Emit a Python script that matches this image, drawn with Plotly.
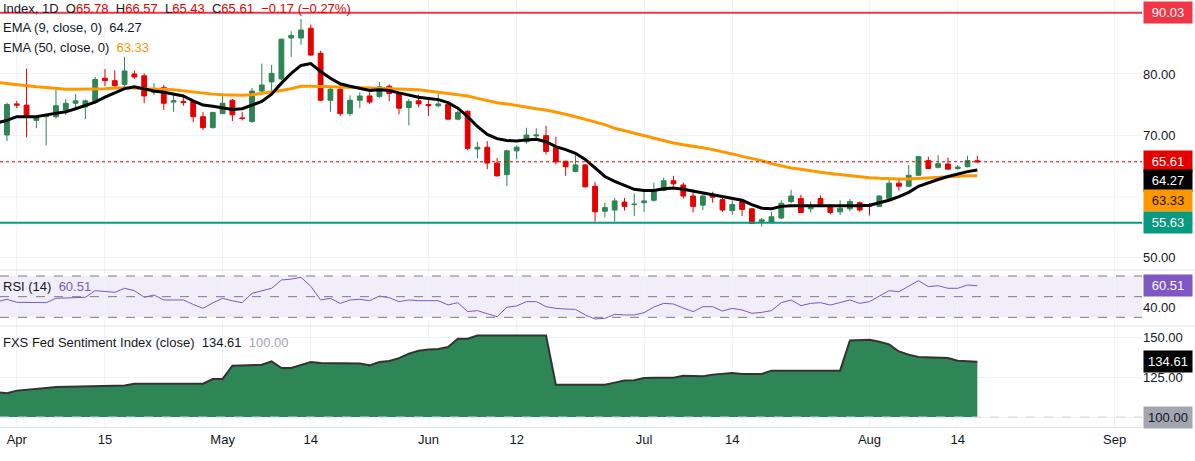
import plotly.graph_objects as go

# --- candles (daily bars); first bar is cut off at the left edge ---
open_ = [70.0,
         70.0, 75.1, 74.9, 72.4, 73.0, 73.0, 74.1, 75.2, 74.6, 75.4,
         79.3, 78.9, 78.3, 80.0, 79.7, 77.0, 77.8, 75.4, 75.5, 75.5,
         73.0, 71.2, 73.5, 75.7, 72.8, 72.2, 77.2, 78.7, 79.2, 85.9,
         85.9, 87.5, 83.4, 75.7, 77.5, 73.5, 75.7, 76.4, 76.3, 78.0,
         76.9, 74.5, 75.6, 75.0, 74.8, 75.0, 72.6, 73.9, 67.7, 68.0,
         65.4, 63.5, 67.4, 68.9, 69.85, 69.9, 67.9, 65.7, 64.0, 65.1,
         61.6, 57.5, 57.7, 59.0, 58.6, 58.9, 59.3, 60.9, 62.5, 61.8,
         60.0, 58.5, 60.1, 59.4, 57.6, 59.1, 57.9, 55.8, 55.7, 56.4,
         59.1, 59.6, 57.9, 59.6, 58.4, 57.4, 57.9, 58.9, 58.6, 58.3,
         59.6, 62.1, 61.6, 63.4, 65.8, 64.7, 65.25, 64.5, 64.8, 65.78]
high = [72.6,
        75.3, 75.6, 80.9, 73.3, 73.4, 77.5, 75.9, 76.7, 75.8, 79.5,
        80.8, 80.6, 82.8, 80.6, 80.1, 78.5, 78.2, 76.6, 76.6, 75.8,
        73.8, 73.8, 76.8, 75.9, 73.8, 77.7, 81.7, 81.5, 85.8, 87.0,
        89.0, 88.1, 83.8, 78.0, 78.5, 76.5, 77.0, 77.0, 78.7, 78.3,
        77.0, 75.9, 76.6, 75.8, 76.8, 75.2, 74.0, 74.0, 68.9, 69.0,
        66.2, 67.6, 68.3, 71.2, 71.1, 71.5, 69.7, 65.8, 67.0, 65.2,
        62.3, 58.9, 59.7, 59.7, 60.4, 61.0, 62.2, 63.0, 63.3, 62.2,
        61.1, 60.5, 60.7, 59.8, 59.3, 59.5, 58.0, 56.4, 57.4, 59.3,
        61.0, 60.2, 59.1, 60.1, 58.6, 59.3, 59.5, 59.1, 58.8, 60.1,
        62.9, 62.9, 65.1, 66.5, 66.45, 66.7, 66.3, 65.1, 66.6, 66.57]
low = [69.2,
       69.0, 74.4, 69.6, 71.1, 68.3, 72.7, 73.3, 74.4, 72.6, 75.2,
       78.0, 77.9, 77.7, 79.2, 75.2, 76.6, 74.1, 73.8, 74.8, 72.1,
       70.8, 71.1, 73.4, 72.3, 72.4, 72.0, 77.1, 77.2, 79.0, 82.8,
       84.8, 83.0, 75.5, 73.8, 73.1, 73.1, 74.4, 75.1, 76.1, 75.5,
       73.4, 71.6, 74.5, 73.1, 74.5, 72.5, 72.4, 67.5, 66.2, 64.4,
       63.2, 61.6, 66.0, 68.6, 69.3, 66.8, 65.2, 63.3, 63.9, 61.4,
       55.8, 56.5, 55.8, 57.6, 56.7, 57.4, 59.1, 60.8, 61.6, 59.6,
       57.3, 57.7, 58.9, 57.4, 56.9, 56.7, 55.4, 55.0, 55.5, 56.2,
       58.8, 57.2, 57.3, 58.2, 57.0, 56.9, 57.5, 57.4, 56.8, 58.2,
       59.5, 60.9, 61.5, 63.3, 64.4, 64.5, 64.35, 64.3, 64.7, 65.43]
close = [72.4,
         75.0, 74.9, 73.0, 72.8, 73.2, 74.8, 75.2, 75.6, 75.6, 79.1,
         78.9, 78.1, 80.5, 79.5, 76.4, 77.5, 75.2, 75.6, 75.3, 73.0,
         71.2, 73.7, 75.2, 73.3, 72.7, 77.2, 78.2, 80.1, 85.7, 86.3,
         87.2, 83.1, 75.7, 77.5, 73.5, 75.7, 76.4, 75.4, 77.9, 76.8,
         74.4, 75.5, 75.1, 74.8, 75.1, 72.6, 73.7, 67.8, 68.0, 65.4,
         63.3, 67.4, 68.0, 70.0, 70.0, 67.3, 65.6, 64.8, 65.1, 61.5,
         57.4, 58.1, 59.2, 58.3, 58.65, 59.2, 61.0, 62.5, 62.0, 60.0,
         58.3, 60.0, 59.8, 57.7, 58.6, 57.8, 55.5, 56.1, 56.6, 58.8,
         60.0, 57.3, 58.3, 58.4, 57.3, 58.0, 59.1, 57.7, 58.3, 60.0,
         62.1, 61.6, 63.4, 66.45, 64.5, 65.3, 64.4, 64.75, 65.8, 65.61]

ema9 = [72.0,
        72.4, 73.0, 73.0, 73.0, 73.3, 73.5, 73.8, 74.3, 74.8, 75.4,
        76.2, 76.9, 77.6, 77.9, 77.5, 77.2, 77.0, 76.7, 76.4, 75.6,
        74.9, 74.7, 74.5, 74.2, 74.3, 74.9, 75.5, 76.7, 78.5, 80.1,
        81.4, 81.7, 80.4, 79.3, 78.4, 78.0, 77.7, 77.3, 77.4, 77.3,
        76.9, 76.5, 76.2, 76.0, 75.8, 75.3, 74.4, 73.0, 71.4, 70.1,
        69.4, 69.1, 69.0, 69.2, 69.3, 68.9, 68.1, 67.6, 67.0, 66.0,
        64.6, 63.2, 62.4, 61.8, 61.1, 60.9, 60.9, 61.2, 61.3, 61.1,
        60.8, 60.5, 60.2, 60.0, 59.7, 59.3, 58.6, 58.0, 57.9, 58.3,
        58.4, 58.4, 58.4, 58.4, 58.4, 58.3, 58.3, 58.4, 58.5, 58.9,
        59.3, 59.9, 60.6, 61.6, 62.2, 62.7, 63.2, 63.6, 64.0, 64.27]
ema50 = [78.6,
         78.4, 78.2, 78.0, 77.9, 77.8, 77.6, 77.5, 77.5, 77.5, 77.5,
         77.6, 77.7, 77.75, 77.7, 77.6, 77.6, 77.5, 77.4, 77.2, 77.0,
         76.9, 76.7, 76.6, 76.5, 76.5, 76.6, 76.8, 77.0, 77.3, 77.6,
         78.0, 78.0, 78.0, 77.9, 77.85, 77.8, 77.75, 77.7, 77.6, 77.6,
         77.5, 77.45, 77.4, 77.2, 77.0, 76.9, 76.7, 76.4, 76.0, 75.6,
         75.3, 75.1, 74.8, 74.5, 74.3, 74.1, 73.8, 73.4, 73.0, 72.6,
         72.2, 71.7, 71.1, 70.7, 70.2, 69.8, 69.4, 69.0, 68.7, 68.4,
         68.2, 67.9, 67.6, 67.3, 66.9, 66.5, 66.2, 65.8, 65.3, 64.9,
         64.6, 64.4, 64.1, 63.9, 63.7, 63.5, 63.3, 63.1, 63.0, 62.9,
         62.8, 62.8, 62.8, 62.9, 63.0, 63.1, 63.2, 63.25, 63.3, 63.33]

rsi = [45.2,
       47.4, 44.5, 44.3, 44.2, 44.2, 48.4, 48.8, 49.2, 49.4, 55.8,
       55.0, 54.2, 58.1, 55.8, 49.4, 51.6, 46.8, 46.8, 46.8, 42.5,
       38.7, 44.0, 48.4, 46.0, 44.2, 53.2, 55.5, 58.1, 66.1, 67.0,
       68.7, 60.0, 46.8, 48.4, 43.5, 46.8, 47.4, 46.1, 50.6, 49.0,
       45.2, 46.8, 46.1, 46.1, 46.1, 42.0, 44.2, 35.5, 36.5, 33.5,
       30.6, 39.7, 41.0, 45.2, 45.2, 40.3, 38.7, 38.0, 37.7, 32.3,
       28.4, 29.0, 32.9, 32.3, 32.3, 34.5, 40.0, 43.5, 42.9, 39.0,
       35.5, 40.3, 40.3, 36.1, 38.7, 37.1, 33.9, 34.8, 36.5, 44.2,
       46.8, 41.3, 43.5, 44.2, 41.9, 44.3, 46.8, 43.5, 45.2, 50.5,
       55.8, 54.8, 60.5, 65.5, 59.7, 60.6, 58.1, 58.1, 61.3, 60.51]

fed_sentiment = [115.6,
                 114.8, 116.5, 117.2, 117.7, 118.2, 118.7, 118.9, 119.1, 119.3, 119.6,
                 119.6, 119.6, 119.7, 120.8, 120.8, 120.8, 120.8, 120.8, 120.8, 120.8,
                 120.8, 123.7, 123.8, 132.1, 132.4, 132.6, 132.7, 134.8, 130.6, 130.6,
                 132.7, 134.4, 133.7, 133.6, 133.6, 133.5, 133.5, 132.3, 134.4, 135.0,
                 136.8, 139.6, 141.5, 142.2, 142.5, 143.8, 149.0, 149.0, 151.0, 151.0,
                 151.0, 151.0, 151.0, 151.0, 151.0, 151.0, 120.2, 120.2, 120.2, 120.2,
                 120.2, 120.2, 121.5, 122.8, 123.0, 124.4, 124.5, 124.5, 124.6, 125.8,
                 125.6, 125.5, 126.5, 127.0, 127.5, 126.9, 126.9, 126.9, 129.0, 129.0,
                 129.0, 129.0, 129.0, 129.0, 129.0, 129.0, 147.9, 147.9, 148.3, 147.0,
                 145.4, 141.0, 139.0, 137.5, 137.3, 137.1, 136.9, 135.2, 134.7, 134.61]

tick_pos = [1, 10, 22, 31, 43, 52, 65, 74, 88, 97, 113]
tick_labels = ["Apr", "15", "May", "14", "Jun", "12", "Jul", "14", "Aug", "14", "Sep"]

resistance = 90.03
support = 55.63
last_price = close[-1]
rsi_levels = [30, 50, 70]
fed_base = 100.0

# bar index, the partly hidden first bar sits at -1
bars = list(range(-1, len(close) - 1))

GREEN = "#2E8555"
RED = "#E50000"
TEXT = "#131722"
GRID = "#F0F3FA"
FONT = "Liberation Sans"

fig = go.Figure()

fig.add_trace(go.Candlestick(
    x=bars, open=open_, high=high, low=low, close=close,
    increasing=dict(line=dict(color=GREEN, width=1), fillcolor=GREEN),
    decreasing=dict(line=dict(color=RED, width=1), fillcolor=RED),
    whiskerwidth=0, showlegend=False, xaxis="x", yaxis="y"))
fig.add_trace(go.Scatter(x=bars, y=ema50, mode="lines",
                         line=dict(color="#FF9800", width=3), showlegend=False, yaxis="y"))
fig.add_trace(go.Scatter(x=bars, y=ema9, mode="lines",
                         line=dict(color="#000000", width=3), showlegend=False, yaxis="y"))

fig.add_trace(go.Scatter(x=bars, y=rsi, mode="lines",
                         line=dict(color="#7E57C2", width=1), showlegend=False, yaxis="y2"))

fig.add_trace(go.Scatter(x=bars, y=[fed_base] * len(bars), mode="lines",
                         line=dict(width=0), showlegend=False, yaxis="y3", hoverinfo="skip"))
fig.add_trace(go.Scatter(x=bars, y=fed_sentiment, mode="lines", fill="tonexty",
                         fillcolor=GREEN, line=dict(color="#333333", width=2),
                         showlegend=False, yaxis="y3"))

# pane layout (price / RSI / sentiment)
main_dom = [0.3677, 1.0]
rsi_dom = [0.2365, 0.3677]
fed_dom = [0.0, 0.2365]

axis_font = dict(family=FONT, size=13, color=TEXT)
fig.update_layout(
    width=1195, height=461,
    margin=dict(l=0, r=53, t=0, b=34),
    paper_bgcolor="white", plot_bgcolor="white",
    font=axis_font,
    xaxis=dict(range=[-0.71, 115.8], tickvals=tick_pos, ticktext=tick_labels,
               showgrid=True, gridcolor=GRID, zeroline=False, anchor="y3",
               rangeslider=dict(visible=False), ticks="", showline=True,
               linecolor="#E0E3EB", tickfont=axis_font),
    yaxis=dict(domain=main_dom, range=[47.87, 92.13], side="right", anchor="x",
               tickvals=[50, 60, 70, 80, 90], ticktext=["50.00", "", "70.00", "80.00", ""],
               showgrid=True, gridcolor=GRID, zeroline=False, ticks=""),
    yaxis2=dict(domain=rsi_dom, range=[21.6, 75.8], side="right", anchor="x",
                tickvals=[40], ticktext=["40.00"], showgrid=False, zeroline=False, ticks=""),
    yaxis3=dict(domain=fed_dom, range=[93.75, 156.9], side="right", anchor="x",
                tickvals=[100, 125, 150], ticktext=["", "125.00", "150.00"],
                showgrid=True, gridcolor=GRID, zeroline=False, ticks=""),
)

# RSI band and levels
fig.add_shape(type="rect", xref="paper", x0=0, x1=1, yref="y2",
              y0=rsi_levels[0], y1=rsi_levels[-1],
              fillcolor="rgba(126,87,194,0.1)", line=dict(width=0), layer="below")
for lvl in rsi_levels:
    fig.add_shape(type="line", xref="paper", x0=0, x1=1, yref="y2", y0=lvl, y1=lvl,
                  line=dict(color="#787B86", width=1, dash="dash"))

fig.add_shape(type="line", xref="paper", x0=0, x1=1, yref="y3", y0=fed_base, y1=fed_base,
              line=dict(color="#D1D4DC", width=1, dash="dash"))

# horizontal price levels
fig.add_shape(type="line", xref="paper", x0=0, x1=1, yref="y", y0=resistance, y1=resistance,
              line=dict(color="#F23645", width=2))
fig.add_shape(type="line", xref="paper", x0=0, x1=1, yref="y", y0=support, y1=support,
              line=dict(color="#089981", width=2))
fig.add_shape(type="line", xref="paper", x0=0, x1=1, yref="y", y0=last_price, y1=last_price,
              line=dict(color=RED, width=1, dash="dot"))

# pane separators
for yy in [main_dom[0], rsi_dom[0]]:
    fig.add_shape(type="line", xref="paper", x0=0, x1=1.05, yref="paper", y0=yy, y1=yy,
                  line=dict(color="#E0E3EB", width=1))

# price-scale tags
tags = [
    ("y", resistance, "#F23645", "white", 0),
    ("y", last_price, RED, "white", 0),
    ("y", ema9[-1], "#000000", "white", -11),
    ("y", ema50[-1], "#FF9800", TEXT, -25),
    ("y", support, "#089981", "white", 0),
    ("y2", rsi[-1], "#7E57C2", "white", 0),
    ("y3", fed_sentiment[-1], "#000000", "white", 0),
    ("y3", fed_base, "#A3A6AF", TEXT, 0),
]
for ref, val, bg, fg, shift in tags:
    fig.add_annotation(xref="paper", x=1, xanchor="left", xshift=1, yref=ref, y=val,
                       yshift=shift, text=f"{val:.2f}", showarrow=False, bgcolor=bg,
                       font=dict(family=FONT, size=13, color=fg), width=46, height=19,
                       align="center")

# legends / header
def span(txt, col):
    return f"<span style='color:{col}'>{txt}</span>"

header = ("Index, 1D  O" + span("65.78", RED) + "  H" + span("66.57", RED) + "  L"
          + span("65.43", RED) + "  C" + span("65.61", RED) + "  "
          + span("\u22120.17 (\u22120.27%)", RED))
legend_rows = [
    (1 - 8 / 427, header),
    (1 - 28 / 427, "EMA (9, close, 0)  " + span(f"{ema9[-1]:.2f}", TEXT)),
    (1 - 47 / 427, "EMA (50, close, 0)  " + span(f"{ema50[-1]:.2f}", "#FF9800")),
    (1 - 286 / 427, "RSI (14)  " + span(f"{rsi[-1]:.2f}", "#7E57C2")),
    (1 - 342 / 427, "FXS Fed Sentiment Index (close)  " + span(f"{fed_sentiment[-1]:.2f}", TEXT)
     + "  " + span(f"{fed_base:.2f}", "#A3A6AF")),
]
for yy, txt in legend_rows:
    fig.add_annotation(xref="paper", x=0, xanchor="left", xshift=1, yref="paper", y=yy,
                       yanchor="middle", text=txt, showarrow=False, align="left",
                       font=dict(family=FONT, size=13, color=TEXT))

fig.write_html("out.html", config={"displayModeBar": False},
               post_script="document.body.style.margin='0';")
